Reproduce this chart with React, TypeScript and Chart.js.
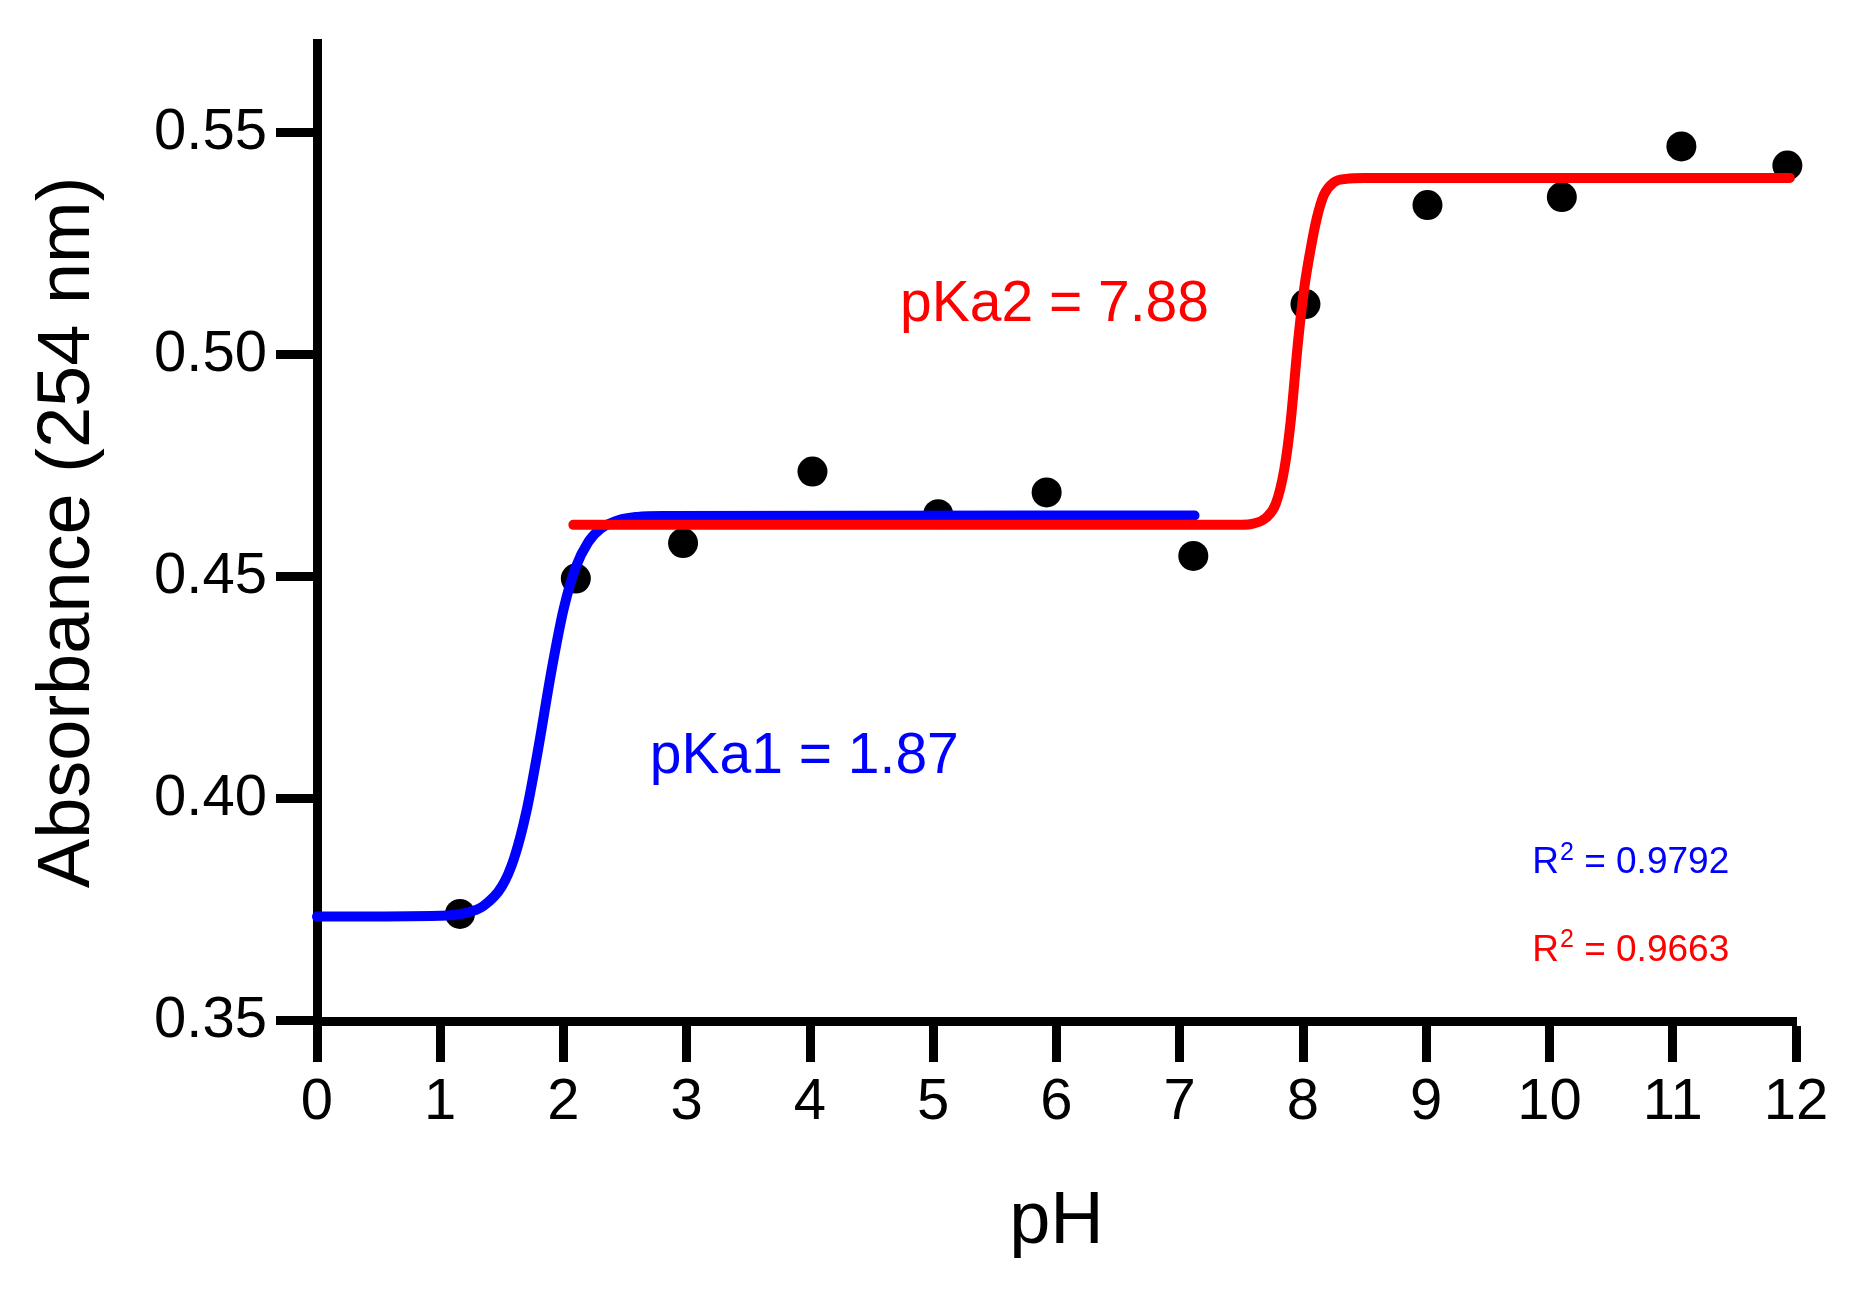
import { Chart, registerables } from "chart.js";
import { useEffect, useRef } from "react";

Chart.register(...registerables);

// measured absorbance points
const phValues = [1.16, 2.1, 2.97, 4.02, 5.04, 5.92, 7.11, 8.02, 9.01, 10.1, 11.07, 11.93];
const absValues = [0.3741, 0.4496, 0.4576, 0.4737, 0.4641, 0.469, 0.4547, 0.5114, 0.5337, 0.5355, 0.5469, 0.5426];

// fit 1 (blue)
const fit1X = [0, 1.0, 1.2, 1.35, 1.5, 1.6, 1.7, 1.8, 1.9, 2.0, 2.1, 2.2, 2.3, 2.45, 2.6, 2.8, 7.12];
const fit1Y = [0.3735, 0.3737, 0.3743, 0.3759, 0.3803, 0.3867, 0.3973, 0.4121, 0.4285, 0.4426, 0.4522, 0.4578, 0.4608, 0.4628, 0.4635, 0.4637, 0.4638];

// fit 2 (red)
const fit2X = [2.08, 7.5, 7.6, 7.7, 7.78, 7.85, 7.9, 7.96, 8.01, 8.06, 8.11, 8.17, 8.25, 8.35, 8.5, 11.95];
const fit2Y = [0.4617, 0.4617, 0.462, 0.4633, 0.4665, 0.4745, 0.485, 0.503, 0.515, 0.5235, 0.5305, 0.536, 0.5388, 0.5396, 0.5398, 0.5398];

const xTicks = [0, 12, 1];
const yTicks = [0.35, 0.57, 0.05];

const BLUE = "#0000ff";
const RED = "#ff0000";
const FONT = "'Liberation Sans', Arial, Helvetica, sans-serif";

const toPoints = (xs: number[], ys: number[]) => xs.map((x, i) => ({ x, y: ys[i] }));

const annotations = [
  { text: "pKa1 = 1.87", x: 2.7, y: 0.4058, color: BLUE, size: 57, sup: false },
  { text: "pKa2 = 7.88", x: 4.73, y: 0.5076, color: RED, size: 57, sup: false },
  { text: " = 0.9792", x: 9.86, y: 0.3833, color: BLUE, size: 37, sup: true },
  { text: " = 0.9663", x: 9.86, y: 0.3636, color: RED, size: 37, sup: true },
];

const annotationPlugin = {
  id: "textNotes",
  afterDatasetsDraw(chart: any) {
    const { ctx, scales } = chart;
    ctx.save();
    ctx.textBaseline = "alphabetic";
    ctx.textAlign = "left";
    annotations.forEach((a) => {
      let px = scales.x.getPixelForValue(a.x);
      const py = scales.y.getPixelForValue(a.y);
      ctx.fillStyle = a.color;
      if (a.sup) {
        ctx.font = `${a.size}px ${FONT}`;
        ctx.fillText("R", px, py);
        px += ctx.measureText("R").width + 1;
        ctx.font = `${Math.round(a.size * 0.68)}px ${FONT}`;
        ctx.fillText("2", px, py - a.size * 0.36);
        px += ctx.measureText("2").width;
      }
      ctx.font = `${a.size}px ${FONT}`;
      ctx.fillText(a.text, px, py);
    });
    ctx.restore();
  },
};

export default function App() {
  const chartRef = useRef<HTMLCanvasElement>(null);
  const chartInstance = useRef<Chart | null>(null);

  useEffect(() => {
    if (!chartRef.current) return;
    const ctx = chartRef.current.getContext("2d");
    if (!ctx) return;

    const config: any = {
      type: "scatter",
      data: {
        datasets: [
          {
            label: "fit2",
            type: "line",
            data: toPoints(fit2X, fit2Y),
            borderColor: RED,
            borderWidth: 10,
            borderCapStyle: "round",
            cubicInterpolationMode: "monotone",
            pointRadius: 0,
            fill: false,
            clip: false,
            order: 1,
          },
          {
            label: "fit1",
            type: "line",
            data: toPoints(fit1X, fit1Y),
            borderColor: BLUE,
            borderWidth: 10,
            borderCapStyle: "round",
            cubicInterpolationMode: "monotone",
            pointRadius: 0,
            fill: false,
            clip: false,
            order: 2,
          },
          {
            label: "data",
            data: toPoints(phValues, absValues),
            backgroundColor: "#000",
            borderColor: "#000",
            pointRadius: 15,
            pointBorderWidth: 0,
            clip: false,
            order: 3,
          },
        ],
      },
      options: {
        responsive: false,
        animation: false,
        layout: { padding: { top: 35, right: 63, bottom: 0, left: 0 } },
        plugins: { legend: { display: false }, tooltip: { enabled: false } },
        scales: {
          x: {
            type: "linear",
            min: xTicks[0],
            max: xTicks[1],
            afterFit: (scale: any) => {
              scale.height = 278;
            },
            ticks: {
              stepSize: xTicks[2],
              color: "#000",
              padding: 6,
              font: { family: FONT, size: 58 },
            },
            grid: { drawOnChartArea: false, tickLength: 41, tickWidth: 9, tickColor: "#000" },
            border: { display: true, color: "#000", width: 9 },
            title: {
              display: true,
              text: "pH",
              color: "#000",
              font: { family: FONT, size: 74 },
              padding: { top: 0, bottom: 32 },
            },
          },
          y: {
            type: "linear",
            min: yTicks[0],
            max: yTicks[1],
            afterFit: (scale: any) => {
              scale.width = 317;
            },
            ticks: {
              stepSize: yTicks[2],
              includeBounds: false,
              color: "#000",
              padding: 9,
              font: { family: FONT, size: 58 },
              callback: (v: number) => v.toFixed(2),
            },
            grid: { drawOnChartArea: false, tickLength: 41, tickWidth: 9, tickColor: "#000" },
            border: { display: true, color: "#000", width: 9 },
            title: {
              display: true,
              text: "Absorbance (254 nm)",
              color: "#000",
              font: { family: FONT, size: 74 },
              padding: { top: 24, bottom: 0 },
            },
          },
        },
      },
      plugins: [annotationPlugin],
    };

    if (chartInstance.current) chartInstance.current.destroy();
    chartInstance.current = new Chart(ctx, config);

    return () => {
      if (chartInstance.current) {
        chartInstance.current.destroy();
        chartInstance.current = null;
      }
    };
  }, []);

  return (
    <div style={{ position: "fixed", left: 0, top: 0, width: 1859, height: 1299, background: "#fff" }}>
      <canvas ref={chartRef} width={1859} height={1299} style={{ display: "block" }} />
    </div>
  );
}
